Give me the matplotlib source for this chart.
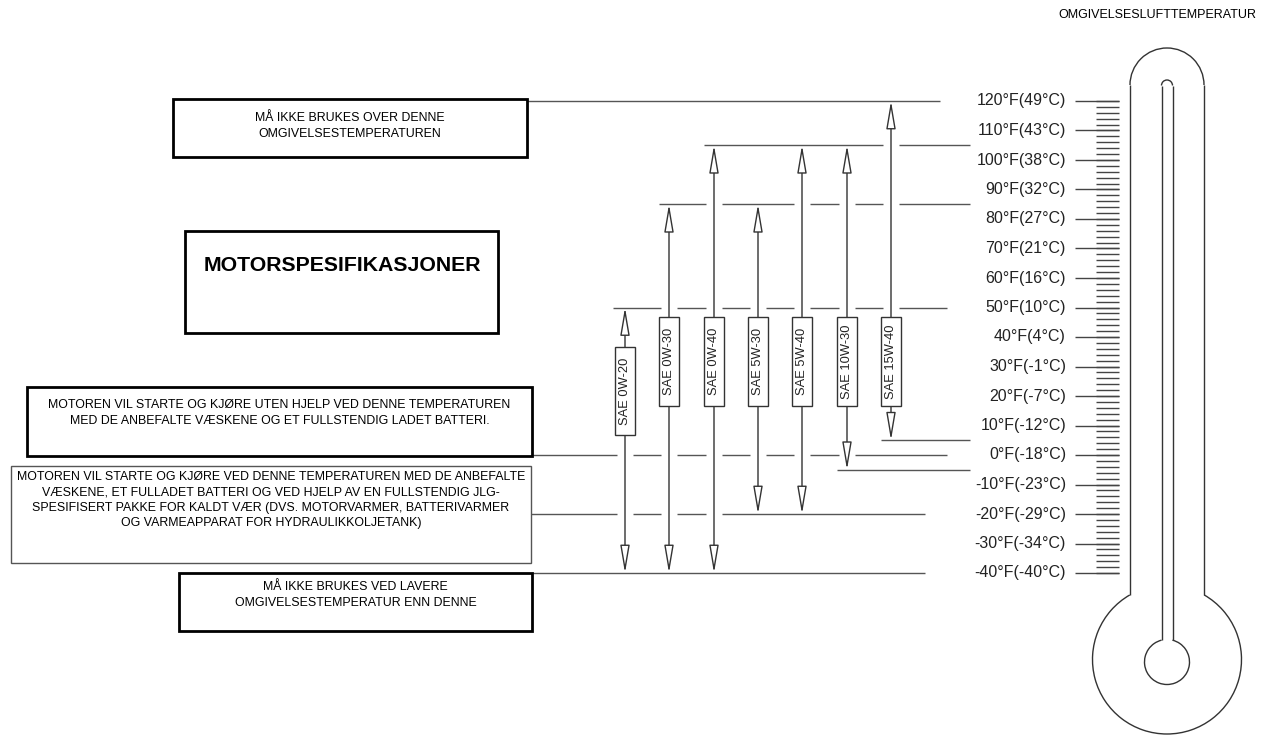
import matplotlib.pyplot as plt
from matplotlib.patches import Rectangle, Arc

# Oljetyper og temperaturområde (°F)
grades = ["SAE 0W-20", "SAE 0W-30", "SAE 0W-40", "SAE 5W-30",
          "SAE 5W-40", "SAE 10W-30", "SAE 15W-40"]
grade_min = [-40, -40, -40, -20, -20, -5, 5]
grade_max = [50, 85, 105, 85, 105, 105, 120]

# Termometerskala
temp_f = [120, 110, 100, 90, 80, 70, 60, 50, 40, 30, 20, 10, 0, -10, -20, -30, -40]
temp_c = [49, 43, 38, 32, 27, 21, 16, 10, 4, -1, -7, -12, -18, -23, -29, -34, -40]
minor_f = list(range(-40, 121, 2))

# Tekstbokser
box_texts = {
    "top": "MÅ IKKE BRUKES OVER DENNE\nOMGIVELSESTEMPERATUREN",
    "title": "MOTORSPESIFIKASJONER",
    "uten": "MOTOREN VIL STARTE OG KJØRE UTEN HJELP VED DENNE TEMPERATUREN\n"
            "MED DE ANBEFALTE VÆSKENE OG ET FULLSTENDIG LADET BATTERI.",
    "med": "MOTOREN VIL STARTE OG KJØRE VED DENNE TEMPERATUREN MED DE ANBEFALTE\n"
           "VÆSKENE, ET FULLADET BATTERI OG VED HJELP AV EN FULLSTENDIG JLG-\n"
           "SPESIFISERT PAKKE FOR KALDT VÆR (DVS. MOTORVARMER, BATTERIVARMER\n"
           "OG VARMEAPPARAT FOR HYDRAULIKKOLJETANK)",
    "bunn": "MÅ IKKE BRUKES VED LAVERE\nOMGIVELSESTEMPERATUR ENN DENNE",
}
header = "OMGIVELSESLUFTTEMPERATUR"

# ---- layout (piksler) ----
W, H = 1262, 735
Y120, PX_PER_F = 101, 2.95
grade_x = [625, 669, 714, 758, 802, 847, 891]
label_box = [(347, 435)] + [(317, 406)] * 6   # topp/bunn for etikettboks
line_span = {120: (527, 940), 105: (704, 970), 85: (659, 970), 50: (613, 947),
             5: (881, 970), 0: (532, 947), -5: (837, 970), -20: (531, 925),
             -40: (532, 925)}
boxes = {  # x0, y0, x1, y1, lw, farge, tekst-y
    "top": (173, 99, 527, 157, 2.0, "black", 126),
    "title": (185, 231, 498, 333, 2.0, "black", 265),
    "uten": (27, 387, 532, 456, 2.0, "black", 413),
    "med": (11, 466, 531, 563, 1.0, "#555555", 500),
    "bunn": (179, 573, 532, 631, 2.0, "black", 595),
}

arial = ["Liberation Sans", "DejaVu Sans"]
line_col = "#555555"

fig = plt.figure(figsize=(W / 100, H / 100), dpi=100)
ax = fig.add_axes([0, 0, 1, 1])
ax.set_xlim(0, W)
ax.set_ylim(120 - (H - Y120) / PX_PER_F, 120 + Y120 / PX_PER_F)
ax.axis("off")
lay = fig.add_axes([0, 0, 1, 1])
lay.set_xlim(0, W)
lay.set_ylim(H, 0)
lay.axis("off")

# horisontale nivålinjer, brutt der en pil krysser
for lvl, (x0, x1) in line_span.items():
    gaps = [x for x, lo, hi in zip(grade_x, grade_min, grade_max)
            if lo < lvl < hi and x0 < x < x1]
    start = x0
    for g in sorted(gaps):
        ax.hlines(lvl, start, g - 8, color=line_col, lw=1)
        start = g + 8
    ax.hlines(lvl, start, x1, color=line_col, lw=1)

# piler og etiketter for hver oljetype
arrow = dict(arrowstyle="-|>,head_length=17,head_width=2.9", mutation_scale=1,
             fc="white", ec="#333333", lw=1, shrinkA=0, shrinkB=0)
for name, x, lo, hi, (bt, bb) in zip(grades, grade_x, grade_min, grade_max, label_box):
    ax.annotate("", xy=(x, hi), xytext=(x, bt), textcoords=lay.transData, arrowprops=arrow)
    ax.annotate("", xy=(x, lo), xytext=(x, bb), textcoords=lay.transData, arrowprops=arrow)
    lay.add_patch(Rectangle((x - 10, bt), 20, bb - bt, fc="white", ec="#333333", lw=1))
    lay.text(x, (bt + bb) / 2, name, rotation=90, ha="center", va="center",
             fontsize=9.3, family=arial, color="#222222")

# tekstbokser
for key, (x0, y0, x1, y1, lw, col, ty) in boxes.items():
    lay.add_patch(Rectangle((x0, y0), x1 - x0, y1 - y0, fill=False, ec=col, lw=lw))
    if key == "title":
        lay.text(x0 + 19, ty, box_texts[key], ha="left", va="center",
                 fontsize=15.3, fontweight="bold", family=arial)
    else:
        lay.text((x0 + x1) / 2, ty, box_texts[key], ha="center", va="center",
                 fontsize=8.9, family=arial, linespacing=1.4)

lay.text(1256, 15, header, ha="right", va="center", fontsize=9, family=arial)

# termometer
ax.hlines(minor_f, 1096, 1119, color="#444444", lw=1)
ax.hlines(temp_f, 1075, 1119, color="#444444", lw=1)
for f, c in zip(temp_f, temp_c):
    ax.text(1066, f, f"{f}°F({c}°C)", ha="right", va="center",
            fontsize=11.5, family=arial, color="#222222")

tc = "#333333"
cx = 1167
lay.vlines([1130, 1204], 85, 595, color=tc, lw=1)
lay.add_patch(Arc((cx, 85), 74, 74, theta1=180, theta2=360, color=tc, lw=1))
lay.add_patch(Arc((cx, 659.5), 149, 149, theta1=-60, theta2=240, color=tc, lw=1))
lay.vlines([1161.5, 1172.5], 85.5, 640, color=tc, lw=1)
lay.add_patch(Arc((cx, 85.5), 11, 11, theta1=180, theta2=360, color=tc, lw=1))
lay.add_patch(Arc((cx, 662), 45, 45, theta1=-76, theta2=256, color=tc, lw=1))

fig.savefig("out.png", dpi=100)
